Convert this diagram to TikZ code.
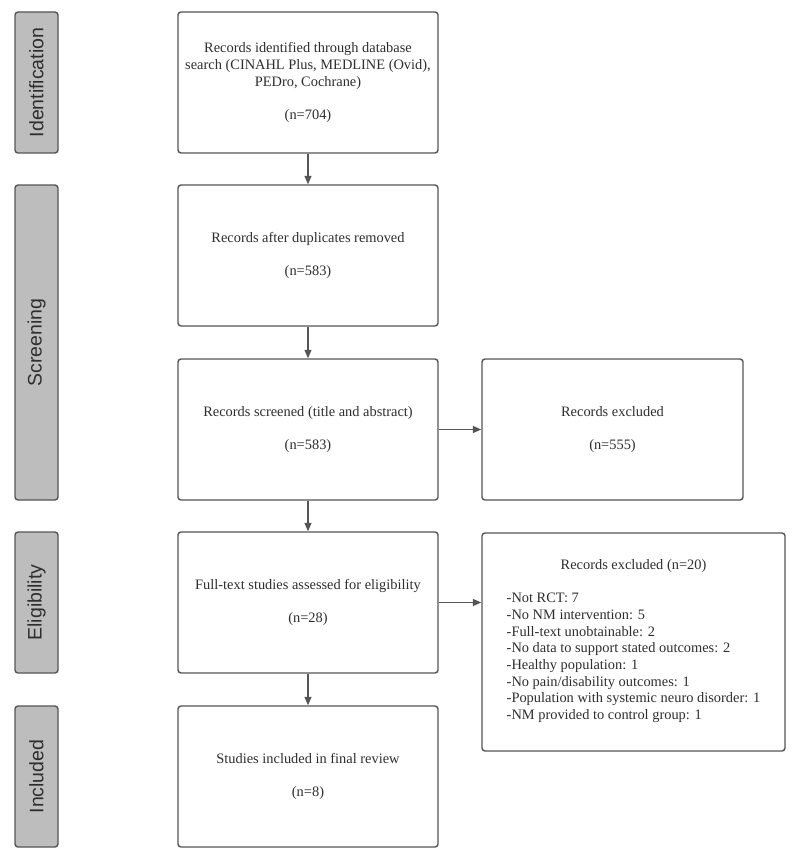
\documentclass[tikz,border=0pt]{standalone}
\usepackage{fontspec}
\setmainfont{Liberation Serif}
\newfontfamily\sidefont{Liberation Sans}
\usetikzlibrary{arrows.meta}
\definecolor{edgecol}{HTML}{555555}
\definecolor{sidefill}{HTML}{BDBDBD}
\definecolor{txtcol}{HTML}{2E2E2E}
\begin{document}
\begin{tikzpicture}[x=1pt,y=-1pt,
  box/.style={draw=edgecol, line width=1.4pt, rounded corners=3pt, fill=white,
    minimum width=260pt, minimum height=141pt, inner sep=0pt, align=center,
    font=\fontsize{14.4}{16.7}\selectfont, text=txtcol},
  side/.style={draw=edgecol, line width=1.4pt, rounded corners=3pt, fill=sidefill,
    minimum height=43pt, inner sep=0pt, rotate=90, text=txtcol,
    font=\sidefont\fontsize{19.5}{22}\selectfont},
  arr/.style={draw=edgecol, line width=1.3pt, -{Triangle[length=8.5pt,width=7pt]}}]
\useasboundingbox (0,0) rectangle (800,861);

% phase labels
\node[side, minimum width=141pt] (sid) at (36.5,82.5) {Identification};
\node[side, minimum width=315pt] (sscr) at (36.5,342.5) {Screening};
\node[side, minimum width=141pt] (selig) at (36.5,602.5) {Eligibility};
\node[side, minimum width=141pt] (sinc) at (36.5,776.5) {Included};

% main boxes
\node[box] (b1) at (308,82.5) {Records identified through database\\search (CINAHL Plus, MEDLINE (Ovid),\\PEDro, Cochrane)\\[16.7pt](n=704)};
\node[box] (b2) at (308,255.5) {Records after duplicates removed\\[16.7pt](n=583)};
\node[box] (b3) at (308,429.5) {Records screened (title and abstract)\\[16.7pt](n=583)};
\node[box] (b4) at (308,602.5) {Full-text studies assessed for eligibility\\[16.7pt](n=28)};
\node[box] (b5) at (308,776.5) {Studies included in final review\\[16.7pt](n=8)};

% exclusion boxes
\node[box, minimum width=261pt] (x1) at (612.5,429.5) {Records excluded\\[16.7pt](n=555)};
\node[box, minimum width=303pt, minimum height=218pt] (x2) at (633.5,642) {Records excluded (n=20)\\[16.7pt]%
\begin{tabular}[t]{@{}l@{}}
-Not RCT: 7\\
-No NM intervention: 5\\
-Full-text unobtainable: 2\\
-No data to support stated outcomes: 2\\
-Healthy population: 1\\
-No pain/disability outcomes: 1\\
-Population with systemic neuro disorder: 1\\
-NM provided to control group: 1
\end{tabular}};

% connectors
\draw[arr] (b1.south) -- (b2.north);
\draw[arr] (b2.south) -- (b3.north);
\draw[arr] (b3.south) -- (b4.north);
\draw[arr] (b4.south) -- (b5.north);
\draw[arr] (b3.east) -- (x1.west);
\draw[arr] (b4.east) -- (b4.east -| x2.west);
\end{tikzpicture}
\end{document}
